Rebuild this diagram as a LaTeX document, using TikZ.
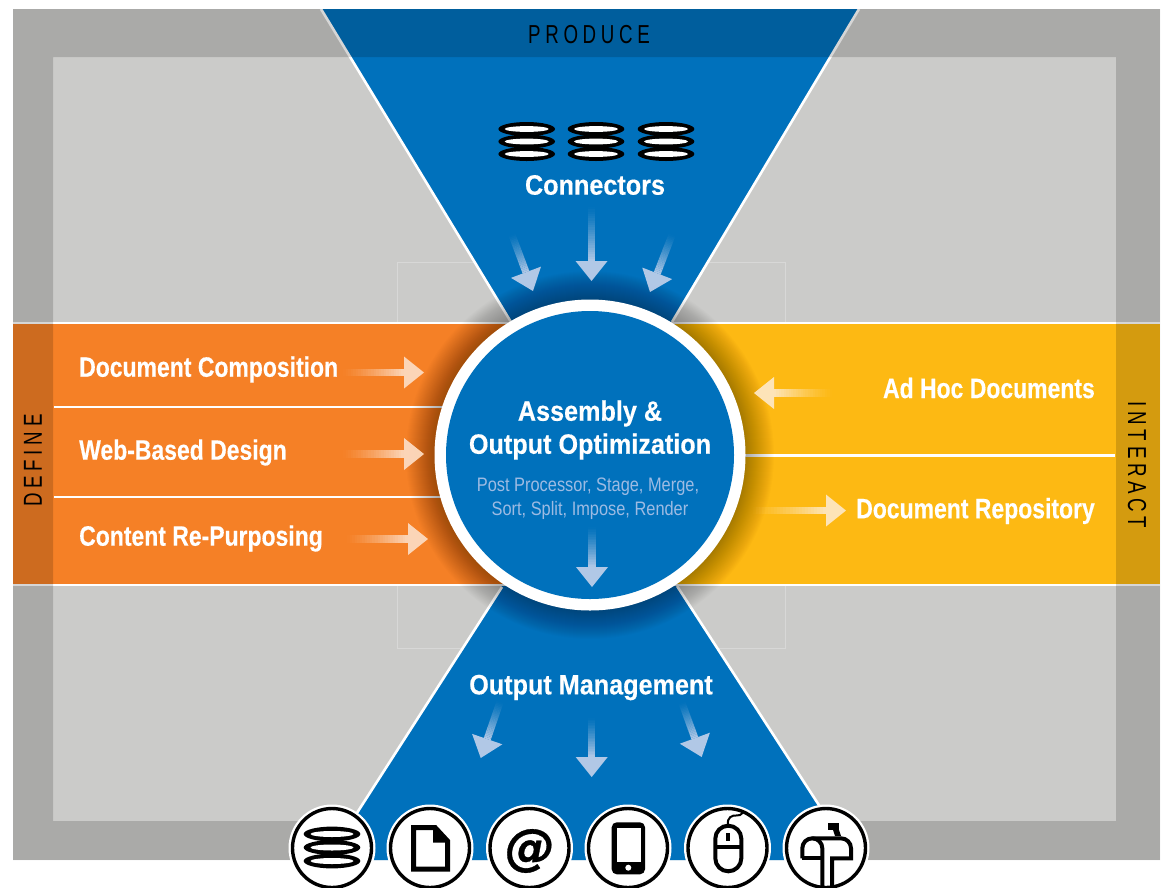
\documentclass[tikz,border=0pt]{standalone}
\usepackage{fontspec}
\setmainfont{Liberation Sans}
\newfontfamily\cnd[FakeStretch=0.82,BoldFeatures={FakeBold=0.35}]{Liberation Sans}
\newfontfamily\cndw[FakeStretch=0.9,BoldFeatures={FakeBold=0.35}]{Liberation Sans}
\newfontfamily\cndl[FakeStretch=0.84]{Liberation Sans}
\newfontfamily\spc[FakeStretch=0.72,LetterSpace=18]{Liberation Sans}
\newfontfamily\atf[BoldItalicFeatures={FakeBold=0.6}]{DejaVu Sans}
\definecolor{bgray}{HTML}{CBCBC9}
\definecolor{bblue}{HTML}{0071BC}
\definecolor{borange}{HTML}{F58026}
\definecolor{byellow}{HTML}{FDB913}
\definecolor{arrblue}{HTML}{B7CBE8}
\definecolor{arrorange}{HTML}{FCD8BC}
\definecolor{arryellow}{HTML}{FEE6BE}
\definecolor{subblue}{HTML}{9DBBE3}
\tikzset{
  mainlabel/.style={text=white,inner sep=0pt,font=\cnd\bfseries\fontsize{28}{32}\selectfont},
  widelabel/.style={text=white,inner sep=0pt,font=\cndw\bfseries\fontsize{28}{32}\selectfont},
  sublabel/.style={text=subblue,inner sep=0pt,font=\cndl\fontsize{19.5}{23}\selectfont},
  strip/.style={text=black,inner sep=0pt,font=\spc\fontsize{26}{28}\selectfont},
  rule/.style={white,line width=2.8pt},
  edge/.style={white,line width=2.6pt},
  ring/.style={draw=black,fill=white,line width=3.4pt},
  halo/.style={fill=white},
  ink/.style={draw=black,line width=4pt,line join=miter},
}
% start x, start y, tip x, tip y, colour
\newcommand\fadearrow[5]{%
  \pgfmathsetmacro\arrang{atan2(-((#4)-(#2)),(#3)-(#1))}%
  \pgfmathsetmacro\arrlen{veclen((#3)-(#1),(#4)-(#2))}%
  \pgfmathsetmacro\arrshaft{\arrlen-20}%
  \begin{scope}[shift={(#1,#2)},rotate=\arrang]
    \foreach \i in {1,...,24}{
      \pgfmathsetmacro\aa{(\i-1)/24*\arrshaft}%
      \pgfmathsetmacro\bb{\i/24*\arrshaft}%
      \pgfmathsetmacro\oo{0.95*pow(\i/24,1.3)}%
      \fill[#5,fill opacity=\oo] (\aa,-3.6) rectangle (\bb,3.6);
    }
    \fill[#5,fill opacity=0.97] (\arrshaft,-16) -- (\arrlen,0) -- (\arrshaft,16) -- cycle;
  \end{scope}}
% centre x, top y, spacing, outer rx, outer ry, inner rx, inner ry
\newcommand\stackdisc[7]{%
  \foreach \k in {2,1,0}{
    \fill[black] (#1,#2+\k*#3) ellipse [x radius=#4,y radius=#5];
  }
  \foreach \k in {2,1,0}{
    \fill[white] (#1,#2+\k*#3) ellipse [x radius=#6,y radius=#7];
  }}
\begin{document}
\begin{tikzpicture}[x=1pt,y=-1pt]
\useasboundingbox (0,0) rectangle (1162,887);
\clip (0,0) rectangle (1162,887);
% ground
\fill[white] (0,0) rectangle (1162,887);
\fill[bgray] (13,9) rectangle (1160,860);
\draw[line width=.5pt,color=white!25!bgray] (397,262) rectangle (785,648);
% top funnel
\fill[bblue] (321,9) -- (859,9) -- (672,322) -- (511,322) -- cycle;
\draw[edge] (321,9) -- (511,322);
\draw[edge] (859,9) -- (672,322);
% bands
\fill[borange] (13,324) rectangle (520,584);
\fill[byellow] (660,324) rectangle (1160,584);
\draw[rule] (13,323) -- (1160,323);
\draw[rule] (13,585) -- (1160,585);
\draw[rule] (54,407) -- (450,407);
\draw[rule] (54,497) -- (450,497);
\draw[rule] (740,455.5) -- (1115,455.5);
% frame overlay
\fill[black,fill opacity=.16,even odd rule] (13,9) rectangle (1160,860) (53,57) rectangle (1116,821);
% bottom funnel
\fill[bblue] (502,586) -- (677,586) -- (826,816) -- (826,860) -- (355,860) -- (355,816) -- cycle;
\draw[edge] (502,587) -- (355,816);
\draw[edge] (677,586) -- (826,816);
% shadow of the hub
\foreach \r in {156,157,...,184}{
  \fill[black,fill opacity=.010] (590,455) circle [radius=\r];
}
% hub
\node[circle,fill=white,minimum size=311pt,inner sep=0pt] (hubring) at (590,455) {};
\node[circle,fill=bblue,minimum size=288pt,inner sep=0pt] (hub) at (590,455) {};
% connectors icons
\stackdisc{526.7}{129}{12.5}{28.3}{7}{22}{2.9}
\stackdisc{596}{129}{12.5}{28.3}{7}{22}{2.9}
\stackdisc{666}{129}{12.5}{28.3}{7}{22}{2.9}
% arrows
\fadearrow{512}{235}{533}{291}{arrblue}
\fadearrow{591.5}{207}{591.5}{281}{arrblue}
\fadearrow{672}{235}{650}{292}{arrblue}
\fadearrow{343}{372.5}{424}{372.5}{arrorange}
\fadearrow{343}{454}{424}{454}{arrorange}
\fadearrow{347}{539}{428}{539}{arrorange}
\fadearrow{832}{393}{754}{393}{arryellow}
\fadearrow{753}{510.5}{846}{510.5}{arryellow}
\fadearrow{592}{527}{592}{587}{arrblue}
\fadearrow{500}{702}{480.7}{758}{arrblue}
\fadearrow{591.7}{718}{591.7}{777}{arrblue}
\fadearrow{682}{703}{701.7}{757}{arrblue}
% labels
\node[strip] (produce) at (589,35) {PRODUCE};
\node[strip,rotate=90] (define) at (33,460.5) {DEFINE};
\node[strip,rotate=-90] (interact) at (1137,465) {INTERACT};
\node[widelabel] (connectors) at (595,185) {Connectors};
\node[mainlabel,anchor=west] (composition) at (79,369.5) {Document Composition};
\node[mainlabel,anchor=west] (web) at (79,452.5) {Web-Based Design};
\node[mainlabel,anchor=west] (repurpose) at (79,538.5) {Content Re-Purposing};
\node[mainlabel,anchor=east] (adhoc) at (1095,388) {Ad Hoc Documents};
\node[mainlabel,anchor=east] (repo) at (1095,511) {Document Repository};
\node[widelabel] (assembly) at (590,413.5) {Assembly \&};
\node[widelabel] (optimization) at (590,446.5) {Output Optimization};
\node[sublabel] (sub1) at (588,487) {Post Processor, Stage, Merge,};
\node[sublabel] (sub2) at (590,510) {Sort, Split, Impose, Render};
\node[widelabel] (output) at (591,687.5) {Output Management};
% bottom icon circles
\foreach \n/\cx in {a/332,b/430,c/529.5,d/628,e/727.5,f/826}{
  \fill[halo] (\cx,848) circle [radius=43.5];
  \draw[ring] (\cx,848) circle [radius=39.5];
}
% database
\stackdisc{332}{834}{13.5}{28.3}{7.4}{21.5}{3}
% document
\draw[ink,line width=5pt,fill=white] (413.5,827.5) -- (435,827.5) -- (447.5,841) -- (447.5,869) -- (413.5,869) -- cycle;
\fill[black] (433,826) -- (449,842.5) -- (433,842.5) -- cycle;
% at sign
\node[inner sep=0pt,font=\atf\bfseries\itshape\fontsize{50}{52}\selectfont] (at) at (530,851) {@};
% phone
\fill[black,rounded corners=5pt] (611.7,822.3) rectangle (645,874.3);
\fill[white] (616.7,827.7) rectangle (640.7,861.7);
\fill[white] (628.3,867.7) circle [radius=3];
% mouse
\draw[black,line width=4pt] (715.3,838.7) arc [start angle=180,end angle=360,radius=13] -- (741.3,858.3) arc [start angle=0,end angle=180,radius=13] -- cycle;
\draw[black,line width=3.6pt] (715.3,846.7) -- (741.3,846.7);
\draw[black,line width=4pt] (728.3,833) -- (728.3,840.5);
\draw[black,line width=2pt] (728.3,825.7) .. controls (726,817) and (733,815) .. (736,815.5) .. controls (739,816) and (741,815) .. (743,812);
% mailbox
\fill[black] (828.3,822.7) rectangle (839.3,830);
\fill[black] (833,830) -- (839,830) -- (841,836) -- (835,836) -- cycle;
\draw[black,line width=4pt,line join=round] (802.3,858.3) -- (802.3,848.3) arc [start angle=180,end angle=360,radius=10] -- (822.3,890);
\draw[black,line width=4pt] (802.3,858.3) -- (822.3,858.3);
\draw[black,line width=4pt] (812.3,838.3) -- (841,838.3) arc [start angle=270,end angle=360,radius=10] -- (851,858.3) -- (832,858.3) -- (832,890);
\end{tikzpicture}
\end{document}
